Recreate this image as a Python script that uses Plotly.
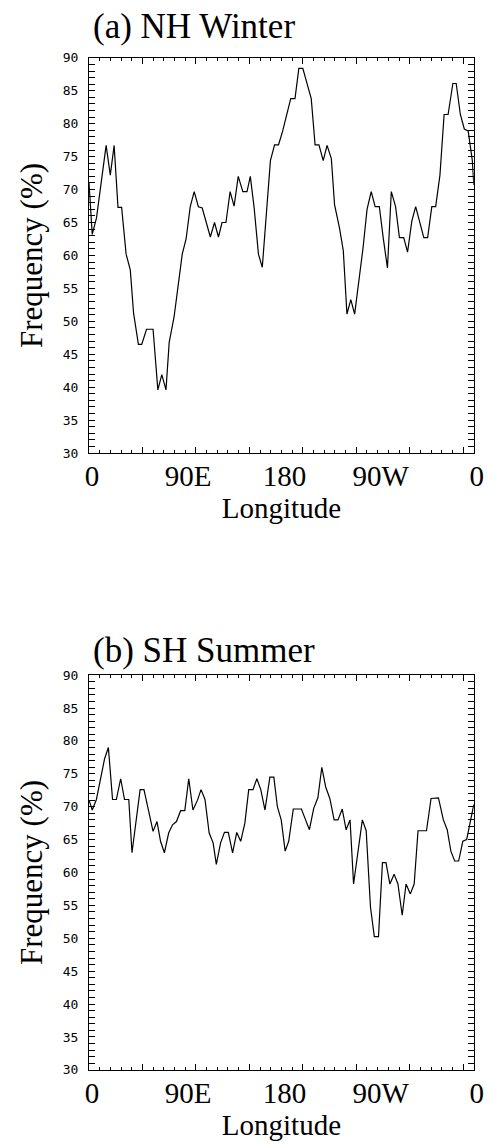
import plotly.graph_objects as go

# ---------------- data ----------------
a_lon = [0, 3, 7, 11.4, 16, 19.9, 23.5, 27.1, 30.5, 34.7, 38.6, 41.7, 46.2, 49.3, 53.8, 59.9,
         64.4, 68.1, 72, 75, 79.6, 83.2, 87.2, 90.8, 94.7, 98.4, 102.3, 105.9, 109.9, 113.5,
         117.4, 121.1, 124.4, 128.1, 132, 135.7, 139.6, 143.9, 147.8, 150.9, 154.5, 158.5,
         162.1, 166.1, 169.7, 173.6, 177.3, 181.2, 184.8, 188.7, 192.7, 196.3, 200, 203.9,
         207.9, 211.5, 215.1, 219.1, 222.7, 226.7, 229.7, 234.3, 237.9, 241.3, 244.9, 248.5,
         252.5, 256.4, 260.1, 264, 267.7, 271.6, 275.2, 279.2, 282.8, 286.8, 290.4, 294.4,
         298, 302, 305.6, 309.2, 313.2, 316.8, 320.7, 324.3, 328.3, 332.2, 335.9, 340.4,
         343.5, 347.4, 351.1, 354.7, 358.6, 360]
a_freq = [71, 63.2, 65.7, 70.7, 76.7, 72.2, 76.7, 67.3, 67.3, 60.2, 57.8, 51.2, 46.5, 46.5, 48.8,
          48.8, 39.6, 41.9, 39.6, 46.8, 50.7, 55.2, 60.2, 62.5, 67.4, 69.7, 67.4, 67.2, 65.0,
          62.8, 65.0, 62.8, 65.0, 65.0, 69.7, 67.5, 72.0, 69.7, 69.7, 72.0, 67.2, 60.2, 58.2,
          67, 74.4, 76.8, 76.8, 78.9, 81.4, 83.8, 83.8, 88.4, 88.4, 86.2, 83.8, 76.8, 76.8,
          74.4, 76.7, 74.7, 67.7, 64.2, 60.7, 51.1, 53.3, 51.1, 56.0, 61.2, 67.0, 69.7, 67.4,
          67.4, 62.7, 58.1, 69.7, 67.4, 62.7, 62.7, 60.5, 65.2, 67.4, 65.0, 62.7, 62.7, 67.4,
          67.4, 72.2, 81.4, 81.4, 86.1, 86.1, 81.4, 79.2, 78.9, 74.4, 70.7]

b_lon = [0, 3, 6.9, 10.8, 14.5, 18.1, 22, 25.6, 29.6, 33.2, 37.2, 40.2, 43.8, 47.8, 51.4, 55.4,
         59.9, 63.6, 66.9, 70.5, 74.5, 78.1, 81.8, 85.7, 89.6, 93.3, 97.2, 101.5, 104.8, 108.5,
         112.4, 116.1, 119.1, 123.1, 126.7, 130.3, 134.3, 138.2, 141.9, 145.8, 149.4, 153.4,
         157, 160.7, 164.6, 169.2, 172.9, 176.2, 179.8, 183.5, 186.8, 191.1, 195, 198.7,
         202.6, 206.2, 210.2, 214.1, 217.8, 221.4, 225.3, 229.3, 232.9, 236.9, 240.5, 244.2,
         247.5, 251.7, 255.7, 259.3, 263.3, 266.9, 270.8, 274.5, 277.8, 281.5, 285.4, 289,
         293, 296.6, 300.6, 304.2, 307.8, 311.8, 315.7, 320, 323.9, 326.9, 331.5, 335.1,
         338.5, 342.1, 345.8, 349.7, 353.3, 357.3, 360]
b_freq = [71.0, 69.5, 71.1, 74.5, 77.25, 79.0, 71.1, 71.1, 74.25, 71.1, 71.1, 63.0, 68, 72.6,
          72.6, 69.5, 66.25, 67.75, 64.75, 63, 66, 67.25, 67.75, 69.4, 69.4, 74.25, 69.5, 71,
          72.6, 71.1, 66, 64.5, 61.25, 64.5, 66.1, 66.1, 63, 66.1, 64.75, 67.5, 72.6, 72.6,
          74.25, 72.6, 69.5, 74.5, 74.5, 70, 68, 63.25, 64.75, 69.65, 69.65, 69.65, 68, 66.5,
          69.75, 71.35, 76, 73, 71.25, 68, 68, 69.65, 66.5, 68, 58.25, 63.25, 68, 66.35, 54.75,
          50.25, 50.25, 61.5, 61.5, 58.25, 59.75, 58.25, 53.5, 58.25, 56.75, 58.25, 66.35,
          66.35, 66.35, 71.25, 71.35, 71.35, 68, 66.5, 63.25, 61.75, 61.75, 64.75, 65, 68,
          70.35]

panel_titles = ["(a) NH Winter", "(b) SH Summer"]
lon_tickvals = [0, 90, 180, 270, 360]
lon_ticktext = ["0", "90E", "180", "90W", "0"]
x_title = "Longitude"
y_title = "Frequency (%)"

# ---------------- layout geometry ----------------
W, H = 495, 1145
xdom = [87.5 / W, 483.5 / W]
ydom_a = [1 - 452 / H, 1 - 51.5 / H]
ydom_b = [1 - 1077 / H, 1 - 677 / H]
title_shift = [10, 3]

SERIF = "Liberation Serif"
MONO = "DejaVu Sans Mono"

fig = go.Figure()
line = dict(color="black", width=1.2)
fig.add_trace(go.Scatter(x=a_lon, y=a_freq, mode="lines", line=line, xaxis="x", yaxis="y",
                         showlegend=False, hoverinfo="skip"))
fig.add_trace(go.Scatter(x=b_lon, y=b_freq, mode="lines", line=line, xaxis="x2", yaxis="y2",
                         showlegend=False, hoverinfo="skip"))
# empty traces to bind the label axes
fig.add_trace(go.Scatter(x=[], y=[], xaxis="x3", yaxis="y", showlegend=False))
fig.add_trace(go.Scatter(x=[], y=[], xaxis="x4", yaxis="y2", showlegend=False))


def tick_xaxis(anchor):
    return dict(domain=xdom, anchor=anchor, range=[0, 360], showline=True, linecolor="black",
                linewidth=1, mirror="allticks", ticks="inside", tickmode="linear", tick0=0,
                dtick=50, ticklen=6, tickcolor="black", tickwidth=1, showticklabels=False,
                showgrid=False, zeroline=False,
                minor=dict(ticks="inside", tickmode="linear", tick0=0, dtick=10, ticklen=3,
                           tickcolor="black", tickwidth=1, showgrid=False))


def label_xaxis(over, anchor):
    return dict(overlaying=over, anchor=anchor, range=[0, 360], side="bottom",
                tickmode="array", tickvals=lon_tickvals, ticktext=lon_ticktext, ticks="",
                ticklabelshift=3, ticklabelstandoff=3, showline=False, showgrid=False,
                zeroline=False, tickfont=dict(family=SERIF, size=29, color="black"),
                title=dict(text=x_title, font=dict(family=SERIF, size=29, color="black"),
                           standoff=3))


def yaxis(dom, anchor):
    return dict(domain=dom, anchor=anchor, range=[30, 90], showline=True, linecolor="black",
                linewidth=1, mirror="allticks", ticks="inside", tickmode="linear", tick0=30,
                dtick=5, ticklen=6, tickcolor="black", tickwidth=1, showgrid=False,
                zeroline=False, tickfont=dict(family=MONO, size=13, color="black"),
                ticklabelstandoff=7,
                minor=dict(ticks="inside", tickmode="linear", tick0=30, dtick=1, ticklen=3,
                           tickcolor="black", tickwidth=1, showgrid=False),
                title=dict(text=y_title, font=dict(family=SERIF, size=31, color="black"),
                           standoff=10))


fig.update_layout(
    width=W, height=H, margin=dict(l=0, r=0, t=0, b=0),
    paper_bgcolor="white", plot_bgcolor="white", showlegend=False,
    xaxis=tick_xaxis("y"), yaxis=yaxis(ydom_a, "x"),
    xaxis2=tick_xaxis("y2"), yaxis2=yaxis(ydom_b, "x2"),
    xaxis3=label_xaxis("x", "y"), xaxis4=label_xaxis("x2", "y2"),
)

for title, dom, ys in zip(panel_titles, [ydom_a, ydom_b], title_shift):
    fig.add_annotation(text=title, xref="paper", yref="paper", x=90 / W, y=dom[1],
                       xanchor="left", yanchor="bottom", yshift=ys, showarrow=False,
                       font=dict(family=SERIF, size=35, color="black"))

fig.write_html(
    "out.html",
    config={"displayModeBar": False},
    post_script="document.body.style.margin='0';document.body.style.overflow='hidden';",
)
